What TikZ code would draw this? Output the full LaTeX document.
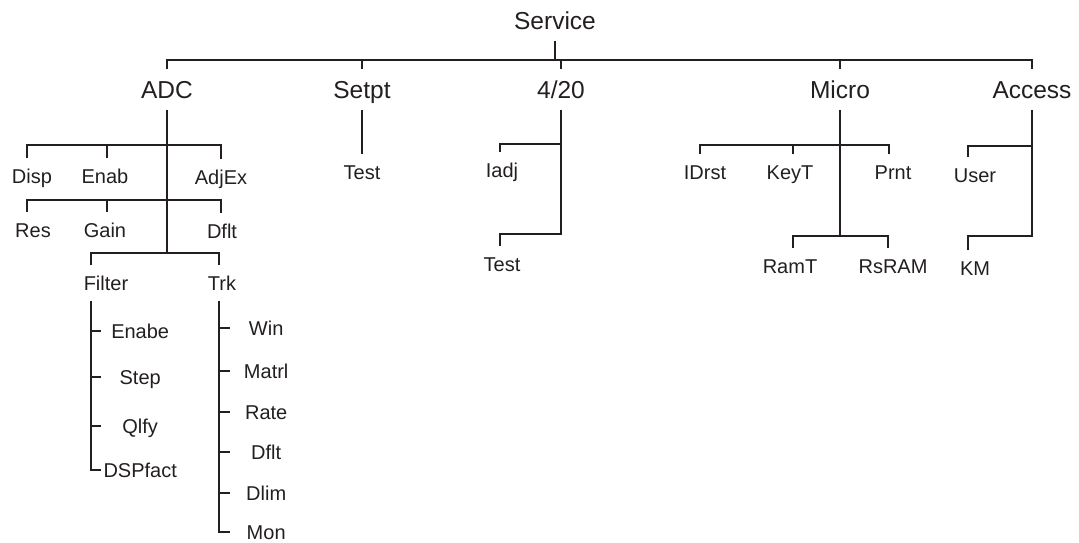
\documentclass[tikz,border=0pt]{standalone}
\usepackage{fontspec}
\setmainfont{Liberation Sans}
\usepackage{xcolor}
\definecolor{ink}{HTML}{231F20}
\usetikzlibrary{positioning}

\begin{document}
\begin{tikzpicture}[
      x=1pt, y=-1pt,
      top/.style     = {font=\fontsize{24.5}{26}\selectfont, text=ink,
                        text height=24pt, text depth=5pt,
                        inner xsep=2pt, inner ysep=6pt},
      leaf/.style    = {font=\fontsize{20}{22}\selectfont, text=ink,
                        text height=18.5pt, text depth=4.5pt,
                        inner xsep=2pt, inner ysep=6pt},
      subleaf/.style = {leaf, anchor=west, minimum width=#1},
      tree/.style    = {draw=ink, line width=2.9pt},
    ]
    \useasboundingbox (0,0) rectangle (1079,543);

    \node[top]  (service) at (555,20.5) {Service};
    \node[top]  (adc)     at (167,89.5) {ADC};
    \node[top]  (setpt)   at (362,89.5) {Setpt};
    \node[top]  (p420)    at (561,89.5) {4/20};
    \node[top]  (micro)   at (840,89.5) {Micro};
    \node[top]  (access)  at (1032,89.5) {Access};

    \node[leaf] (disp)   at (32,176)  {Disp};
    \node[leaf] (enab)   at (105,176) {Enab};
    \node[leaf] (adjex)  at (221,177) {AdjEx};
    \node[leaf] (res)    at (33,230)  {Res};
    \node[leaf] (gain)   at (105,230) {Gain};
    \node[leaf] (dflt)   at (222,231) {Dflt};
    \node[leaf] (filter) at (106,283) {Filter};
    \node[leaf] (trk)    at (222,283) {Trk};

    \node[subleaf=78] (enabe)   at (101,331) {Enabe};
    \node[subleaf=78] (fstep)   at (101,377) {Step};
    \node[subleaf=78] (qlfy)    at (101,426) {Qlfy};
    \node[subleaf=78] (dspfact) at (101,470) {DSPfact};

    \node[subleaf=72] (win)   at (230,328) {Win};
    \node[subleaf=72] (matrl) at (230,371) {Matrl};
    \node[subleaf=72] (rate)  at (230,412) {Rate};
    \node[subleaf=72] (tdflt) at (230,452) {Dflt};
    \node[subleaf=72] (dlim)  at (230,493) {Dlim};
    \node[subleaf=72] (mon)   at (230,532) {Mon};

    \node[leaf] (stest) at (362,172) {Test};
    \node[leaf] (iadj)  at (502,170) {Iadj};
    \node[leaf] (ptest) at (502,264) {Test};
    \node[leaf] (idrst) at (705,172) {IDrst};
    \node[leaf] (keyt)  at (790,172) {KeyT};
    \node[leaf] (prnt)  at (893,172) {Prnt};
    \node[leaf] (ramt)  at (790,266) {RamT};
    \node[leaf] (rsram) at (893,266) {RsRAM};
    \node[leaf] (user)  at (975,175) {User};
    \node[leaf] (km)    at (975,268) {KM};

    \coordinate (tb)   at (555,60);
    \coordinate (adcA) at (27,145);
    \coordinate (adcB) at (107,145);
    \coordinate (adcC) at (221,145);
    \coordinate (adcD) at (27,200);
    \coordinate (adcE) at (107,200);
    \coordinate (adcF) at (221,200);
    \coordinate (fj)   at (91,253);
    \coordinate (tj)   at (219,253);
    \coordinate (pa)   at (500,144);
    \coordinate (pb)   at (500,234);
    \coordinate (pj)   at (561,234);
    \coordinate (mA)   at (700,145);
    \coordinate (mB)   at (793,145);
    \coordinate (mC)   at (889,145);
    \coordinate (mD)   at (793,236);
    \coordinate (mE)   at (888,236);
    \coordinate (acA)  at (968,146);
    \coordinate (acB)  at (968,236);

    \draw[tree] (service) -- (tb);
    \draw[tree] (adc) -- (adc |- tb) -- (access |- tb) -- (access);
    \foreach \n in {setpt, p420, micro}
      \draw[tree] (\n |- tb) -- (\n);

    \draw[tree] (adc) -- (adc |- fj);
    \draw[tree] (adcA |- disp.north) -- (adcA) -- (adcC) -- (adcC |- adjex.north);
    \draw[tree] (adcB) -- (adcB |- enab.north);
    \draw[tree] (adcD |- res.north) -- (adcD) -- (adcF) -- (adcF |- dflt.north);
    \draw[tree] (adcE) -- (adcE |- gain.north);
    \draw[tree] (fj |- filter.north) -- (fj) -- (tj) -- (tj |- trk.north);

    \draw[tree] (fj |- filter.south) -- (fj |- dspfact) -- (dspfact.west);
    \foreach \n in {enabe, fstep, qlfy}
      \draw[tree] (fj |- \n) -- (\n.west);
    \draw[tree] (tj |- trk.south) -- (tj |- mon) -- (mon.west);
    \foreach \n in {win, matrl, rate, tdflt, dlim}
      \draw[tree] (tj |- \n) -- (\n.west);

    \draw[tree] (setpt) -- (stest);

    \draw[tree] (p420) -- (pj) -- (pb) -- (pb |- ptest.north);
    \draw[tree] (p420 |- pa) -- (pa) -- (pa |- iadj.north);

    \draw[tree] (micro) -- (micro |- mD);
    \draw[tree] (mA |- idrst.north) -- (mA) -- (mC) -- (mC |- prnt.north);
    \draw[tree] (mB) -- (mB |- keyt.north);
    \draw[tree] (mD |- ramt.north) -- (mD) -- (mE) -- (mE |- rsram.north);

    \draw[tree] (access) -- (access |- acB) -- (acB) -- (acB |- km.north);
    \draw[tree] (access |- acA) -- (acA) -- (acA |- user.north);
  \end{tikzpicture}
\end{document}
